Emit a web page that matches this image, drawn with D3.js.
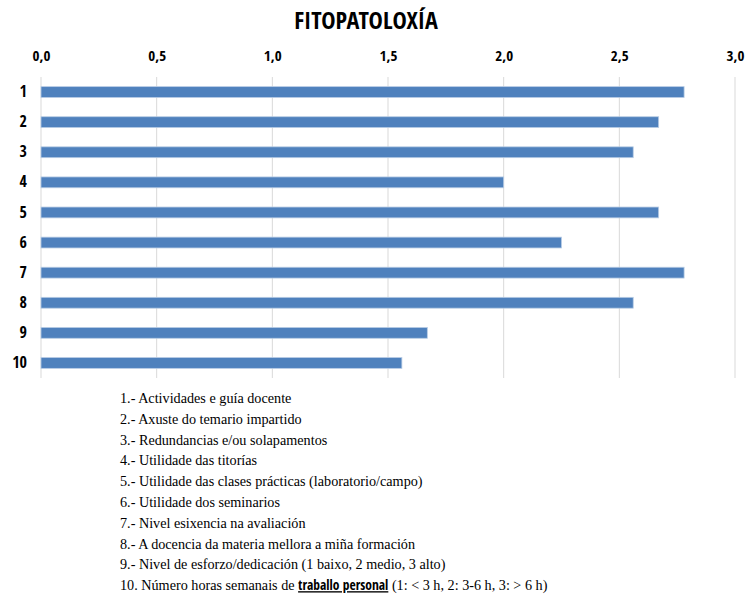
<!DOCTYPE html>
<html>
<head>
<meta charset="utf-8">
<script src="https://cdn.jsdelivr.net/npm/d3@7"></script>
<style>
  body { margin: 0; background: #fff; }
  svg { display: block; }
</style>
</head>
<body>
<svg id="chart" width="749" height="596"></svg>
<script>
'use strict';

// chart data
var categories = ['1', '2', '3', '4', '5', '6', '7', '8', '9', '10'];
var values = [2.78, 2.67, 2.56, 2.00, 2.67, 2.25, 2.78, 2.56, 1.67, 1.56];
var xTicks = [0, 0.5, 1, 1.5, 2, 2.5, 3];
var legendItems = [
  '1.- Actividades e guía docente',
  '2.- Axuste do temario impartido',
  '3.- Redundancias e/ou solapamentos',
  '4.- Utilidade das titorías',
  '5.- Utilidade das clases prácticas (laboratorio/campo)',
  '6.- Utilidade dos seminarios',
  '7.- Nivel esixencia na avaliación',
  '8.- A docencia da materia mellora a miña formación',
  '9.- Nivel de esforzo/dedicación (1 baixo, 2 medio, 3 alto)'
];

var svg = d3.select('#chart');

var margin = { top: 77, left: 41, right: 14, bottom: 218 };
var width = 749 - margin.left - margin.right;
var height = 596 - margin.top - margin.bottom;

var x = d3.scaleLinear().domain([0, 3]).range([0, width]);
var y = d3.scaleBand().domain(categories).range([0, height]).paddingInner(0.64).paddingOuter(0.32);

var narrow = '"Liberation Sans Narrow", "Open Sans Condensed", Lato, sans-serif';

var g = svg.append('g')
  .attr('transform', 'translate(' + margin.left + ',' + margin.top + ')');

// title
svg.append('text')
  .attr('x', 366)
  .attr('y', 29)
  .attr('text-anchor', 'middle')
  .style('font-family', narrow)
  .style('font-weight', 'bold')
  .style('font-size', '24px')
  .style('fill', '#000')
  .text('FITOPATOLOXÍA');

// vertical gridlines
g.selectAll('.grid')
  .data(xTicks)
  .enter().append('line')
  .attr('class', 'grid')
  .attr('x1', (d) => x(d))
  .attr('x2', (d) => x(d))
  .attr('y1', 0)
  .attr('y2', height)
  .style('stroke', '#d9d9d9')
  .style('stroke-width', 1);

// top axis
var fmt = (d) => d.toFixed(1).replace('.', ',');
var xAxis = g.append('g')
  .call(d3.axisTop(x).tickValues(xTicks).tickFormat(fmt).tickSize(0).tickPadding(16));
xAxis.select('.domain').remove();
xAxis.selectAll('text')
  .style('font-family', narrow)
  .style('font-weight', 'bold')
  .style('font-size', '15px')
  .style('fill', '#000');

// category axis
var yAxis = g.append('g')
  .call(d3.axisLeft(y).tickSize(0).tickPadding(14));
yAxis.select('.domain').remove();
yAxis.selectAll('text')
  .style('font-family', narrow)
  .style('font-weight', 'bold')
  .style('font-size', '16px')
  .style('fill', '#000');

// bars
g.selectAll('.bar')
  .data(values)
  .enter().append('rect')
  .attr('class', 'bar')
  .attr('x', x(0))
  .attr('y', (d, i) => y(categories[i]))
  .attr('width', (d) => x(d) - x(0))
  .attr('height', y.bandwidth())
  .style('fill', '#4f81bd')
  .style('stroke', '#b9cde5')
  .style('stroke-width', 0.8);

// legend below chart
var legend = svg.append('g')
  .attr('transform', 'translate(120,403)')
  .style('font-family', '"Liberation Serif", "Times New Roman", serif')
  .style('font-size', '14.2px')
  .style('fill', '#000');

legend.selectAll('text.item')
  .data(legendItems)
  .enter().append('text')
  .attr('class', 'item')
  .attr('x', 0)
  .attr('y', (d, i) => i * 20.8)
  .text((d) => d);

var last = legend.append('text')
  .attr('x', 0)
  .attr('y', legendItems.length * 20.8);
last.append('tspan').text('10. Número horas semanais de ');
last.append('tspan')
  .style('font-family', narrow)
  .style('font-weight', 'bold')
  .style('text-decoration', 'underline')
  .style('font-size', '13.5px')
  .text('traballo personal');
last.append('tspan').text(' (1: < 3 h, 2: 3-6 h, 3: > 6 h)');
</script>
</body>
</html>
